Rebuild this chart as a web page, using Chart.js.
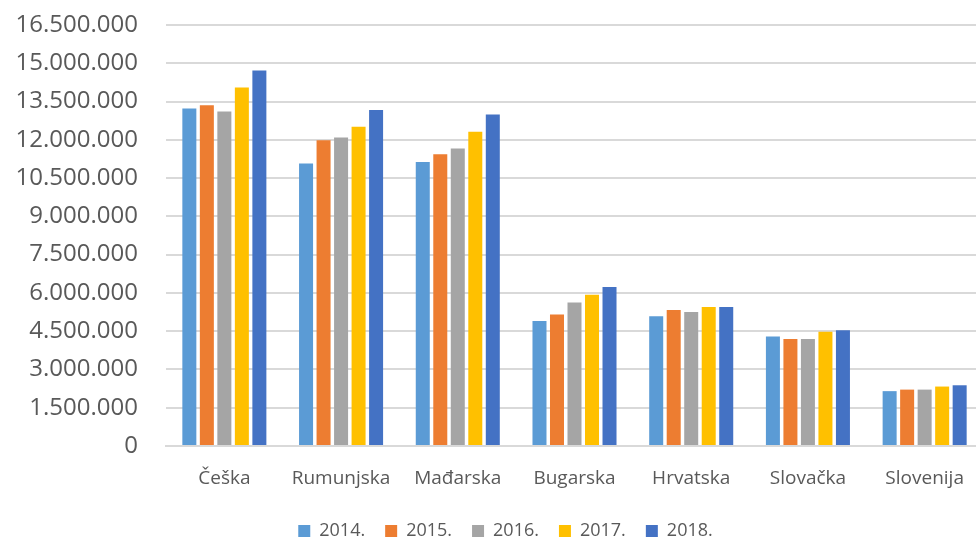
<!DOCTYPE html>
<html>
<head>
<meta charset="utf-8">
<script src="https://cdn.jsdelivr.net/npm/chart.js@4/dist/chart.umd.min.js"></script>
<style>
    html, body { margin: 0; padding: 0; background: #ffffff; overflow: hidden; }
    #wrap { width: 1010px; height: 538px; position: relative; }
</style>
</head>
<body>
<div id="wrap"><canvas id="mainGraph"></canvas></div>
<script>
const categories = ["Češka", "Rumunjska", "Mađarska", "Bugarska", "Hrvatska", "Slovačka", "Slovenija"]
const years = ["2014.", "2015.", "2016.", "2017.", "2018."]
const colors = ["#5B9BD5", "#ED7D31", "#A5A5A5", "#FFC000", "#4472C4"]

const values2014 = [13230000, 11070000, 11130000, 4900000, 5090000, 4290000, 2150000]
const values2015 = [13350000, 11980000, 11430000, 5150000, 5330000, 4190000, 2210000]
const values2016 = [13110000, 12090000, 11660000, 5620000, 5250000, 4190000, 2210000]
const values2017 = [14050000, 12510000, 12320000, 5930000, 5450000, 4480000, 2330000]
const values2018 = [14720000, 13170000, 12990000, 6230000, 5450000, 4540000, 2380000]

const yMin = 0
const yMax = 16500000
const yStep = 1500000

const seriesValues = [values2014, values2015, values2016, values2017, values2018]
const fontFamily = "'Open Sans', sans-serif"
const textColor = "#595959"
const gridColor = "#d9d9d9"

const formatNumber = (value) => {
    return String(value).replace(/\B(?=(\d{3})+(?!\d))/g, ".")
}

const datasets = years.map((year, i) => {
    return {
        label: year,
        data: seriesValues[i],
        backgroundColor: colors[i],
        borderWidth: 0,
        categoryPercentage: 0.75,
        barPercentage: 0.8
    }
})

// legend is centred on the whole picture, not on the part left of the clipped plot edge
const legendShift = {
    id: "legendShift",
    afterLayout: (chart) => {
        chart.legend.left += 14
        chart.legend.right += 14
    }
}

const lineCanvas = document.getElementById("mainGraph")

new Chart(lineCanvas, {
    type: "bar",
    data: {
        labels: categories,
        datasets: datasets
    },
    options: {
        responsive: true,
        maintainAspectRatio: false,
        animation: false,
        layout: {
            padding: {top: 25, right: 27, bottom: -12, left: 0}
        },
        scales: {
            x: {
                grid: {display: false},
                border: {color: gridColor, width: 2},
                ticks: {
                    color: textColor,
                    padding: 13,
                    font: {size: 19, family: fontFamily}
                },
                afterFit: (axis) => { axis.height = 56 }
            },
            y: {
                min: yMin,
                max: yMax,
                border: {display: false},
                grid: {
                    color: gridColor,
                    lineWidth: 2,
                    drawTicks: true,
                    tickLength: 28,
                    tickColor: "rgba(0,0,0,0)"
                },
                ticks: {
                    stepSize: yStep,
                    color: textColor,
                    padding: 0,
                    font: {size: 24, family: fontFamily},
                    callback: (value) => formatNumber(value)
                },
                afterFit: (axis) => { axis.width = 166 }
            }
        },
        plugins: {
            tooltip: {enabled: true},
            legend: {
                display: true,
                position: "bottom",
                labels: {
                    color: textColor,
                    boxWidth: 12,
                    boxHeight: 12,
                    padding: 20,
                    font: {size: 18, family: fontFamily}
                }
            }
        }
    },
    plugins: [legendShift]
})
</script>
</body>
</html>
